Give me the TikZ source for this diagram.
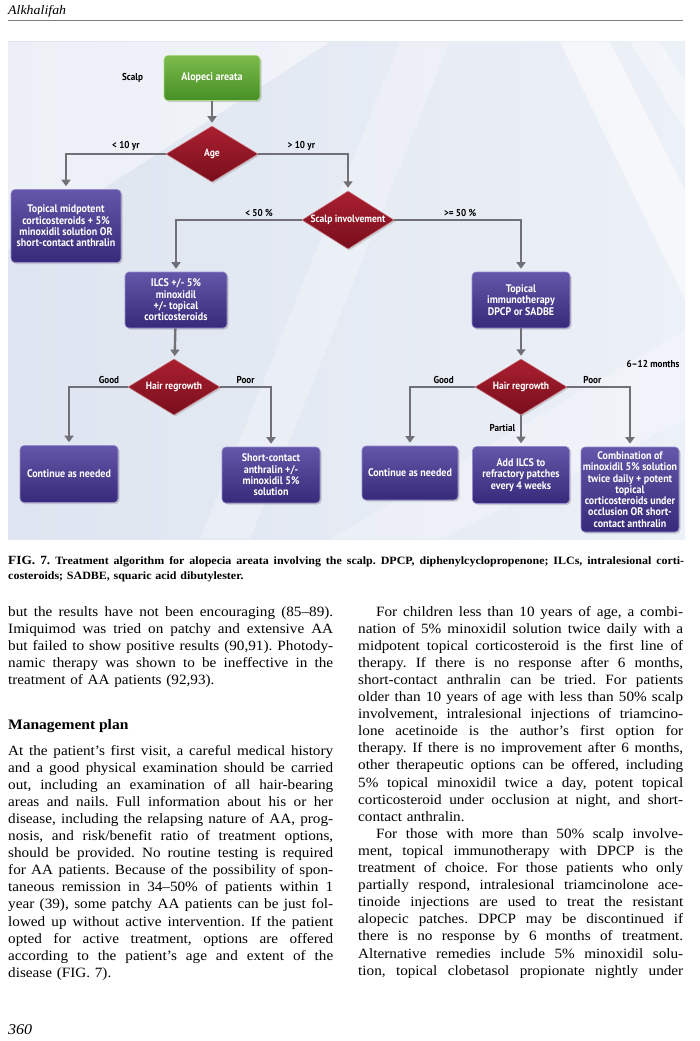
\documentclass[tikz,border=0pt]{standalone}
\usepackage{fontspec}
\setmainfont{Liberation Serif}[FakeStretch=1.07]
\newfontfamily\diagfont[FakeStretch=0.91]{PT Sans}
\usetikzlibrary{shapes.geometric,arrows.meta,positioning,shadows}

\definecolor{boxtop}{RGB}{100,86,168}
\definecolor{boxbot}{RGB}{56,42,122}
\definecolor{boxedge}{RGB}{150,140,205}
\definecolor{greentop}{RGB}{124,188,74}
\definecolor{greenbot}{RGB}{70,142,38}
\definecolor{greenedge}{RGB}{170,215,130}
\definecolor{redtop}{RGB}{170,32,48}
\definecolor{redbot}{RGB}{120,14,28}
\definecolor{arrowgray}{RGB}{112,112,118}
\definecolor{bgleft}{RGB}{222,229,240}
\definecolor{bgright}{RGB}{236,240,247}

\tikzstyle{block} = [rectangle, draw=boxedge, line width=0.6pt,
    top color=boxtop, bottom color=boxbot, text=white, align=center,
    font=\diagfont\bfseries\fontsize{11}{11.3}\selectfont,
    rounded corners=4pt, inner sep=1pt,
    drop shadow={shadow xshift=1.5pt, shadow yshift=-1.5pt, opacity=0.35}]
\tikzstyle{start} = [block, draw=greenedge, top color=greentop,
    bottom color=greenbot]
\tikzstyle{decide} = [diamond, aspect=1.6, draw=redtop!60!white,
    line width=0.5pt, top color=redtop, bottom color=redbot, text=white,
    font=\diagfont\bfseries\fontsize{10.5}{11}\selectfont, inner sep=0pt,
    minimum width=92pt, minimum height=56pt,
    drop shadow={shadow xshift=1.5pt, shadow yshift=-1.5pt, opacity=0.3}]
\tikzstyle{line} = [draw=arrowgray, line width=2.4pt,
    -{Triangle[length=6.5pt,width=9pt]}, shorten >=3pt]
\tikzstyle{lbl} = [font=\diagfont\bfseries\fontsize{10}{11}\selectfont,
    text=black, inner sep=2.5pt, above]
\tikzstyle{body} = [anchor=base west, inner sep=0pt, text width=325pt,
    font=\fontsize{14.2}{17.1}\selectfont\frenchspacing]

% one justified line of text
\newcommand\jl[2][325pt]{\leavevmode\hbox to #1{\spaceskip=\fontdimen2\font
  plus 2\fontdimen2\font minus 0.3\fontdimen2\font\relax #2}\\}

\begin{document}
\begin{tikzpicture}[x=1pt, y=-1pt]
  \useasboundingbox (0,0) rectangle (700,1041);
  \fill[white] (0,0) rectangle (700,1041);
  % Running head
  \node[anchor=base west, inner sep=0pt,
    font=\itshape\fontsize{13}{15}\selectfont] (runhead) at (8,15) {Alkhalifah};
  \draw[gray, line width=0.8pt] (8,20) -- (683,20);
  % Background of the figure
  \shade[left color=bgleft, right color=bgright] (8,42) rectangle (685,539);
  \fill[white, opacity=0.45] (8,42) -- (330,42) -- (8,250) -- cycle;
  \fill[white, opacity=0.5] (560,42) -- (610,42) -- (685,190) -- (685,300) -- cycle;
  \fill[white, opacity=0.35] (630,42) -- (660,42) -- (685,80) -- (685,130) -- cycle;
  \fill[white, opacity=0.25] (400,42) -- (450,42) -- (250,539) -- (200,539) -- cycle;
  \fill[white, opacity=0.25] (685,330) -- (685,420) -- (440,539) -- (330,539) -- cycle;

  % Place nodes
  \node [start, minimum width=96pt, minimum height=45pt] (alopecia) at (212,78)
  {Alopeci areata};
  \node [lbl, anchor=center, left=18pt of alopecia] (scalp) {Scalp};
  \node [decide] (age) at (212,154) {Age};
  \node [block, minimum width=110pt, minimum height=73pt] (midpotent) at (66,226)
  {Topical midpotent\\corticosteroids + 5\%\\minoxidil solution OR\\short-contact anthralin};
  \node [decide, minimum height=58pt] (involve) at (348,220) {Scalp involvement};
  \node [block, minimum width=102pt, minimum height=56pt] (ilcs) at (176,300)
  {ILCS +/- 5\%\\minoxidil\\+/- topical\\corticosteroids};
  \node [block, minimum width=98pt, minimum height=56pt] (immuno) at (521,300)
  {Topical\\immunotherapy\\DPCP or SADBE};
  \node [decide] (regrowthA) at (174,387) {Hair regrowth};
  \node [decide] (regrowthB) at (521,387) {Hair regrowth};
  \node [block, minimum width=98pt, minimum height=57pt] (continueA) at (69,474)
  {Continue as needed};
  \node [block, minimum width=98pt, minimum height=56pt] (anthralin) at (271,475)
  {Short-contact\\anthralin +/-\\minoxidil 5\%\\solution};
  \node [block, minimum width=96pt, minimum height=54pt] (continueB) at (410,473)
  {Continue as needed};
  \node [block, minimum width=97pt, minimum height=57pt] (addilcs) at (521,475)
  {Add ILCS to\\refractory patches\\every 4 weeks};
  \node [block, minimum width=98pt, minimum height=85pt] (combination) at (630,489.5)
  {Combination of\\minoxidil 5\% solution\\twice daily + potent\\topical\\corticosteroids under\\occlusion OR short-\\contact anthralin};
  \node [lbl, anchor=center] (months) at (653,364) {6–12 months};

  % Draw edges
  \draw [line] (alopecia) -- (age);
  \draw [line] (age.west) -| node [lbl, pos=0.2] {< 10 yr} (midpotent.north);
  \draw [line] (age.east) -| node [lbl, pos=0.24] {> 10 yr} (involve.north);
  \draw [line] (involve.west) -| node [lbl, pos=0.17] {< 50 \%} (ilcs.north);
  \draw [line] (involve.east) -| node [lbl, pos=0.26] {>= 50 \%} (immuno.north);
  \draw [line] (ilcs) -- (regrowthA);
  \draw [line] (immuno) -- (regrowthB);
  \draw [line] (regrowthA.west) -| node [lbl, pos=0.16] {Good} (continueA.north);
  \draw [line] (regrowthA.east) -| node [lbl, pos=0.25] {Poor} (anthralin.north);
  \draw [line] (regrowthB.west) -| node [lbl, pos=0.24] {Good} (continueB.north);
  \draw [line] (regrowthB.east) -| node [lbl, pos=0.2] {Poor} (combination.north);
  \draw [line] (regrowthB) -- node [lbl, left, pos=0.4, xshift=-2pt] {Partial} (addilcs);

  % Caption
  \node[anchor=base west, inner sep=0pt, text width=676pt,
    font=\bfseries\fontsize{11.2}{15}\selectfont\frenchspacing] (caption) at (8,564)
  {\jl[676pt]{{\fontsize{12.5}{15}\selectfont FIG. 7.}\hspace{5pt}Treatment algorithm for alopecia areata involving the scalp. DPCP, diphenylcyclopropenone; ILCs, intralesional corti-}%
   costeroids; SADBE, squaric acid dibutylester.};

  % Text columns
  \node[body] (colA) at (8,616)
  {\jl{but the results have not been encouraging (85–89).}%
   \jl{Imiquimod was tried on patchy and extensive AA}%
   \jl{but failed to show positive results (90,91). Photody-}%
   \jl{namic therapy was shown to be ineffective in the}%
   treatment of AA patients (92,93).};
  \node[anchor=base west, inner sep=0pt, font=\bfseries\fontsize{14.5}{17}\selectfont]
    (heading) at (8,729) {Management plan};
  \node[body] (colB) at (8,755)
  {\jl{At the patient's first visit, a careful medical history}%
   \jl{and a good physical examination should be carried}%
   \jl{out, including an examination of all hair-bearing}%
   \jl{areas and nails. Full information about his or her}%
   \jl{disease, including the relapsing nature of AA, prog-}%
   \jl{nosis, and risk/benefit ratio of treatment options,}%
   \jl{should be provided. No routine testing is required}%
   \jl{for AA patients. Because of the possibility of spon-}%
   \jl{taneous remission in 34–50\% of patients within 1}%
   \jl{year (39), some patchy AA patients can be just fol-}%
   \jl{lowed up without active intervention. If the patient}%
   \jl{opted for active treatment, options are offered}%
   \jl{according to the patient's age and extent of the}%
   disease (FIG. 7).};
  \node[body] (colC) at (358,616)
  {\jl{\hspace*{18pt}For children less than 10 years of age, a combi-}%
   \jl{nation of 5\% minoxidil solution twice daily with a}%
   \jl{midpotent topical corticosteroid is the first line of}%
   \jl{therapy. If there is no response after 6 months,}%
   \jl{short-contact anthralin can be tried. For patients}%
   \jl{older than 10 years of age with less than 50\% scalp}%
   \jl{involvement, intralesional injections of triamcino-}%
   \jl{lone acetinoide is the author's first option for}%
   \jl{therapy. If there is no improvement after 6 months,}%
   \jl{other therapeutic options can be offered, including}%
   \jl{5\% topical minoxidil twice a day, potent topical}%
   \jl{corticosteroid under occlusion at night, and short-}%
   contact anthralin.\\
   \jl{\hspace*{18pt}For those with more than 50\% scalp involve-}%
   \jl{ment, topical immunotherapy with DPCP is the}%
   \jl{treatment of choice. For those patients who only}%
   \jl{partially respond, intralesional triamcinolone ace-}%
   \jl{tinoide injections are used to treat the resistant}%
   \jl{alopecic patches. DPCP may be discontinued if}%
   \jl{there is no response by 6 months of treatment.}%
   \jl{Alternative remedies include 5\% minoxidil solu-}%
   \leavevmode\hbox to 325pt{\spaceskip=\fontdimen2\font plus 2\fontdimen2\font
   minus 0.3\fontdimen2\font\relax tion, topical clobetasol propionate nightly under}};
  % Page number
  \node[anchor=base west, inner sep=0pt, font=\itshape\fontsize{15}{17}\selectfont]
    (folio) at (8,1034) {360};
\end{tikzpicture}
\end{document}
